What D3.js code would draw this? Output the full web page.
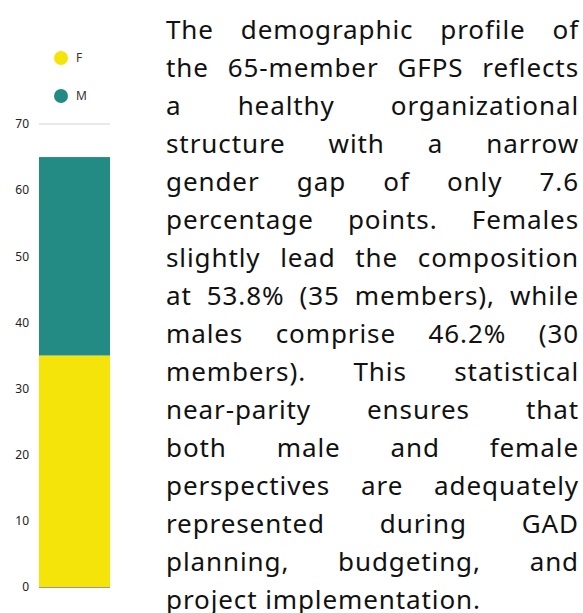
<!DOCTYPE html>
<html>
  <head>
    <meta charset="utf-8" />
    <title>GFPS Gender Composition</title>
    <script src="https://d3js.org/d3.v7.min.js"></script>
    <style>
      body {
        margin: 0;
        width: 583px;
        height: 613px;
        overflow: hidden;
        background: #fff;
        position: relative;
      }
      #chart {
        position: absolute;
        left: 0;
        top: 0;
      }
      #text {
        position: absolute;
        left: 166px;
        top: 10px;
        width: 413px;
        font-family: "Noto Sans", sans-serif;
        font-size: 26px;
        line-height: 38px;
        letter-spacing: 0.9px;
        color: #111;
      }
      #text .line {
        white-space: nowrap;
        text-align: justify;
        text-align-last: justify;
      }
      #text .line.last {
        text-align-last: left;
      }
    </style>
  </head>
  <body>
    <div id="chart"></div>
    <div id="text"></div>
    <script>
      const categories = ["GFPS"];
      const seriesNames = ["F", "M"];
      const femaleValues = [35];
      const maleValues = [30];
      const colors = ["#f5e40a", "#238b84"];
      const yTicks = [0, 10, 20, 30, 40, 50, 60, 70];

      const textLines = [
        "The demographic profile of",
        "the 65-member GFPS reflects",
        "a healthy organizational",
        "structure with a narrow",
        "gender gap of only 7.6",
        "percentage points. Females",
        "slightly lead the composition",
        "at 53.8% (35 members), while",
        "males comprise 46.2% (30",
        "members). This statistical",
        "near-parity ensures that",
        "both male and female",
        "perspectives are adequately",
        "represented during GAD",
        "planning, budgeting, and",
        "project implementation.",
      ];

      const rows = categories.map((c, i) => ({
        cat: c,
        F: femaleValues[i],
        M: maleValues[i],
      }));

      const width = 160,
        height = 613;
      const margin = { top: 124, bottom: 26, left: 39, right: 50 };

      const svg = d3
        .select("#chart")
        .append("svg")
        .attr("width", width)
        .attr("height", height)
        .style("font-family", "'Noto Sans', sans-serif");

      const x = d3
        .scaleBand()
        .domain(categories)
        .range([margin.left, width - margin.right])
        .padding(0);

      const y = d3
        .scaleLinear()
        .domain([0, 70])
        .range([height - margin.bottom, margin.top]);

      // Grid lines
      svg
        .append("g")
        .selectAll("line")
        .data(yTicks)
        .join("line")
        .attr("x1", margin.left)
        .attr("x2", width - margin.right)
        .attr("y1", (d) => y(d))
        .attr("y2", (d) => y(d))
        .attr("stroke", (d) => (d === 0 ? "#999" : "#d4d4d4"))
        .attr("stroke-width", 1);

      // Stacked bars
      const stack = d3.stack().keys(seriesNames)(rows);
      svg
        .append("g")
        .selectAll("g")
        .data(stack)
        .join("g")
        .attr("fill", (d, i) => colors[i])
        .selectAll("rect")
        .data((d) => d)
        .join("rect")
        .attr("x", (d) => x(d.data.cat))
        .attr("width", x.bandwidth())
        .attr("y", (d) => y(d[1]))
        .attr("height", (d) => y(d[0]) - y(d[1]));

      // redraw the zero baseline over the bar
      svg
        .append("line")
        .attr("x1", margin.left)
        .attr("x2", width - margin.right)
        .attr("y1", y(0) + 0.5)
        .attr("y2", y(0) + 0.5)
        .attr("stroke", "#999");

      // Y axis
      const yAxis = svg
        .append("g")
        .attr("transform", `translate(${margin.left - 10},0)`)
        .call(d3.axisLeft(y).tickValues(yTicks).tickSize(0).tickPadding(0));
      yAxis.select(".domain").remove();
      yAxis
        .selectAll("text")
        .attr("font-size", 12)
        .attr("font-family", "'Noto Sans', sans-serif")
        .attr("fill", "#222");

      // Legend
      const legend = svg
        .append("g")
        .selectAll("g")
        .data(seriesNames)
        .join("g")
        .attr("transform", (d, i) => `translate(61,${58 + i * 38})`);
      legend
        .append("circle")
        .attr("r", 7)
        .attr("fill", (d, i) => colors[i]);
      legend
        .append("text")
        .attr("x", 15)
        .attr("dy", "0.35em")
        .attr("font-size", 12)
        .attr("fill", "#333")
        .text((d) => d);

      // Paragraph
      d3.select("#text")
        .selectAll("div")
        .data(textLines)
        .join("div")
        .attr("class", (d, i) =>
          i === textLines.length - 1 ? "line last" : "line"
        )
        .text((d) => d);
    </script>
  </body>
</html>
